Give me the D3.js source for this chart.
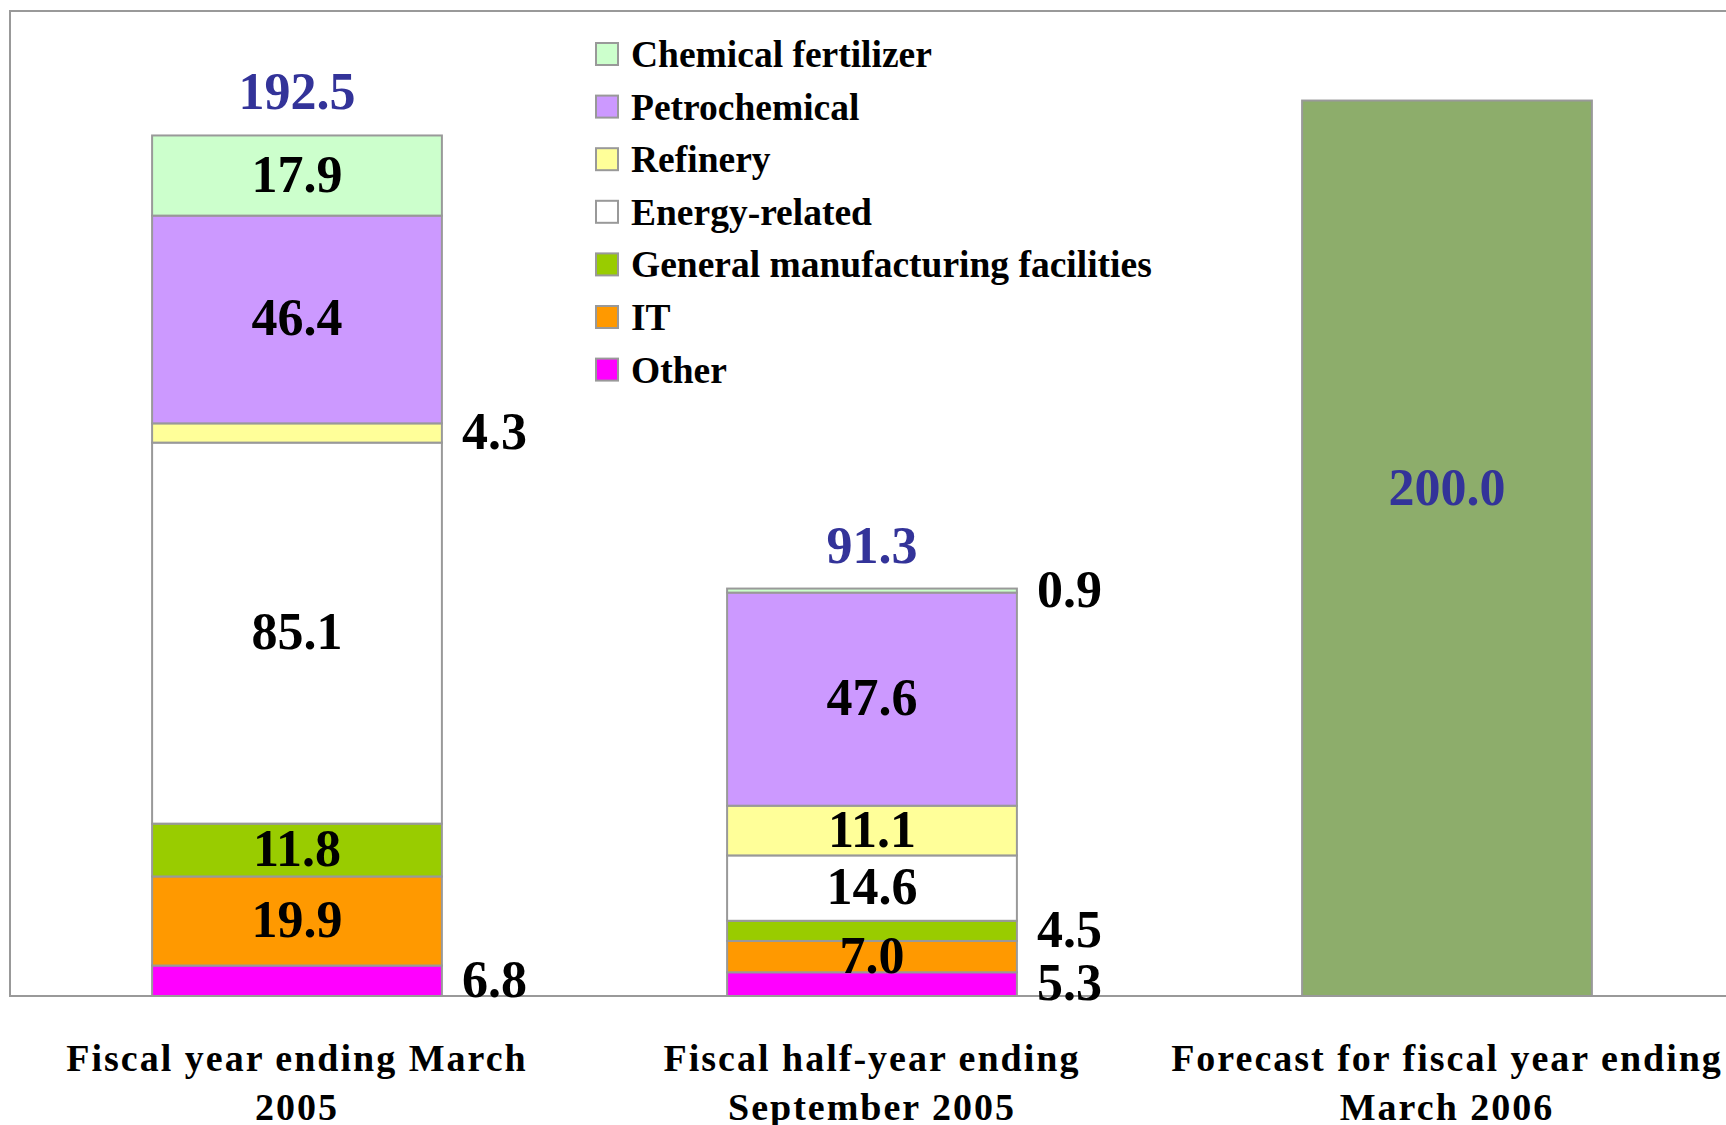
<!DOCTYPE html>
<html>
<head>
    <script src="https://cdnjs.cloudflare.com/ajax/libs/d3/7.8.5/d3.min.js"></script>
    <style>
        body { margin: 0; background: white; }
        text { font-family: "Liberation Serif", "Times New Roman", serif; font-weight: bold; }
        .seg { stroke: #999999; stroke-width: 2; }
        .val { font-size: 52px; fill: #000; }
        .total { font-size: 52px; fill: #333399; }
        .legend-label { font-size: 37.5px; fill: #000; }
        .cat-label { font-size: 38px; fill: #000; letter-spacing: 2px; }
    </style>
</head>
<body>
    <svg width="1726" height="1125"></svg>
    <script>
        // Categories (x axis), two lines each
        const categories = ["FY2005", "H1FY2006", "FY2006F"];
        const categoryLines = [
            ["Fiscal year ending March", "2005"],
            ["Fiscal half-year ending", "September 2005"],
            ["Forecast for fiscal year ending", "March 2006"]
        ];

        // Stack order, bottom to top
        const segments = ["Other", "IT", "General manufacturing facilities",
            "Energy-related", "Refinery", "Petrochemical", "Chemical fertilizer"];
        const segColors = ["#FF00FF", "#FF9900", "#99CC00", "#FFFFFF", "#FFFF99", "#CC99FF", "#CCFFCC"];

        const fy2005 = [6.8, 19.9, 11.8, 85.1, 4.3, 46.4, 17.9];
        const h1fy2006 = [5.3, 7.0, 4.5, 14.6, 11.1, 47.6, 0.9];
        const forecast = [200.0];
        const totals = [192.5, 91.3, 200.0];

        const svg = d3.select("svg");

        // Scales
        const x = d3.scaleBand()
            .domain(categories)
            .range([9.5, 1734.5])
            .paddingInner(0.496)
            .paddingOuter(0.248);

        const y = d3.scaleLinear()
            .domain([0, 220])
            .range([996, 11]);

        // Plot frame
        svg.append("rect")
            .attr("x", x.range()[0] + 0.5)
            .attr("y", y(220))
            .attr("width", x.range()[1] - x.range()[0])
            .attr("height", y(0) - y(220))
            .attr("fill", "none")
            .attr("stroke", "#999999")
            .attr("stroke-width", 2);

        // Stacked data
        const rows = [fy2005, h1fy2006].map((vals, i) => {
            const r = { cat: categories[i] };
            segments.forEach((s, j) => r[s] = vals[j]);
            return r;
        });
        const stacked = d3.stack().keys(segments)(rows);

        const bw = x.bandwidth();

        stacked.forEach((layer, j) => {
            svg.append("g")
                .selectAll("rect")
                .data(layer)
                .enter()
                .append("rect")
                .attr("class", "seg")
                .attr("x", d => x(d.data.cat))
                .attr("y", d => y(d[1]))
                .attr("width", bw)
                .attr("height", d => y(d[0]) - y(d[1]))
                .attr("fill", segColors[j]);
        });

        // Segment value labels
        stacked.forEach((layer, j) => {
            layer.forEach(d => {
                const v = d[1] - d[0];
                const inside = v >= 7;
                const cy = y((d[0] + d[1]) / 2);
                svg.append("text")
                    .attr("class", "val")
                    .attr("x", inside ? x(d.data.cat) + bw / 2 : x(d.data.cat) + bw + 20)
                    .attr("y", cy + 16)
                    .attr("text-anchor", inside ? "middle" : "start")
                    .text(v.toFixed(1));
            });
        });

        // Forecast bar
        svg.append("rect")
            .attr("class", "seg")
            .attr("x", x(categories[2]))
            .attr("y", y(forecast[0]))
            .attr("width", bw)
            .attr("height", y(0) - y(forecast[0]))
            .attr("fill", "#8DAD6B");

        // Totals
        [0, 1].forEach(i => {
            const top = stacked[stacked.length - 1][i][1];
            svg.append("text")
                .attr("class", "total")
                .attr("x", x(categories[i]) + bw / 2)
                .attr("y", y(top) - 26)
                .attr("text-anchor", "middle")
                .text(totals[i].toFixed(1));
        });
        svg.append("text")
            .attr("class", "total")
            .attr("x", x(categories[2]) + bw / 2)
            .attr("y", y(forecast[0]) + (y(0) - y(forecast[0])) * 0.432 + 18)
            .attr("text-anchor", "middle")
            .text(totals[2].toFixed(1));

        // Category labels
        categories.forEach((c, i) => {
            const t = svg.append("text")
                .attr("class", "cat-label")
                .attr("text-anchor", "middle");
            categoryLines[i].forEach((line, k) => {
                t.append("tspan")
                    .attr("x", x(c) + bw / 2)
                    .attr("y", 1071 + k * 49)
                    .text(line);
            });
        });

        // Legend
        const legendOrder = segments.slice().reverse();
        const legend = svg.append("g").attr("transform", "translate(596,43)");
        legendOrder.forEach((s, i) => {
            const g = legend.append("g").attr("transform", `translate(0,${i * 52.6})`);
            g.append("rect")
                .attr("width", 22)
                .attr("height", 22)
                .attr("fill", segColors[segments.indexOf(s)])
                .attr("stroke", "#999999")
                .attr("stroke-width", 2);
            g.append("text")
                .attr("class", "legend-label")
                .attr("x", 35)
                .attr("y", 24)
                .text(s);
        });
    </script>
</body>
</html>
